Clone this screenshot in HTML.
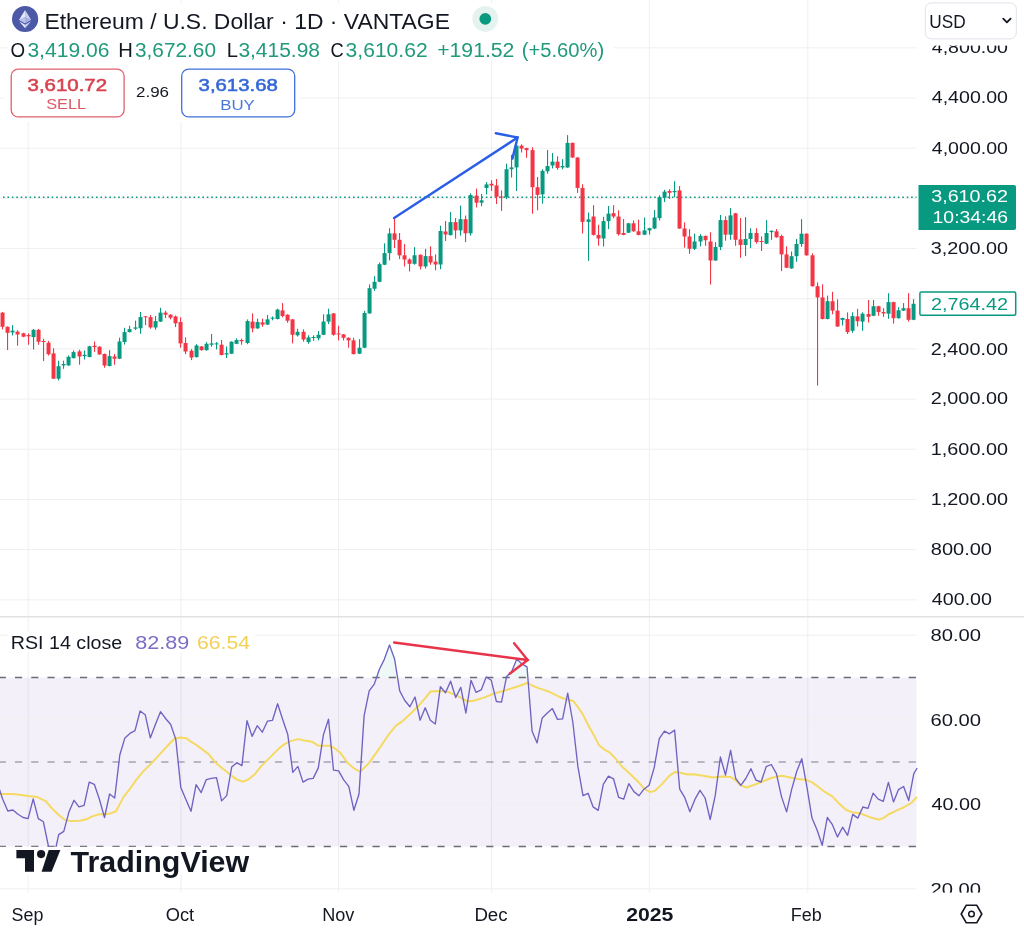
<!DOCTYPE html>
<html><head><meta charset="utf-8"><title>Ethereum / U.S. Dollar chart</title>
<style>
html,body{margin:0;padding:0;background:#fff;}
body{width:1024px;height:934px;overflow:hidden;position:relative;}
svg{position:absolute;left:0;top:0;will-change:transform;}
svg text{font-family:"Liberation Sans", Arial, sans-serif;}
</style></head><body>
<svg width="1024" height="934" viewBox="0 0 1024 934">
<rect width="1024" height="934" fill="#ffffff"/>
<line x1="28.2" y1="0" x2="28.2" y2="892.5" stroke="#efeff1" stroke-width="1"/>
<line x1="181.0" y1="0" x2="181.0" y2="892.5" stroke="#efeff1" stroke-width="1"/>
<line x1="338.6" y1="0" x2="338.6" y2="892.5" stroke="#efeff1" stroke-width="1"/>
<line x1="491.5" y1="0" x2="491.5" y2="892.5" stroke="#efeff1" stroke-width="1"/>
<line x1="649.4" y1="0" x2="649.4" y2="892.5" stroke="#efeff1" stroke-width="1"/>
<line x1="807.8" y1="0" x2="807.8" y2="892.5" stroke="#efeff1" stroke-width="1"/>
<line x1="0" y1="599.8" x2="916.5" y2="599.8" stroke="#efeff1" stroke-width="1"/>
<line x1="0" y1="549.6" x2="916.5" y2="549.6" stroke="#efeff1" stroke-width="1"/>
<line x1="0" y1="499.4" x2="916.5" y2="499.4" stroke="#efeff1" stroke-width="1"/>
<line x1="0" y1="449.2" x2="916.5" y2="449.2" stroke="#efeff1" stroke-width="1"/>
<line x1="0" y1="399.1" x2="916.5" y2="399.1" stroke="#efeff1" stroke-width="1"/>
<line x1="0" y1="348.9" x2="916.5" y2="348.9" stroke="#efeff1" stroke-width="1"/>
<line x1="0" y1="298.7" x2="916.5" y2="298.7" stroke="#efeff1" stroke-width="1"/>
<line x1="0" y1="248.5" x2="916.5" y2="248.5" stroke="#efeff1" stroke-width="1"/>
<line x1="0" y1="198.3" x2="916.5" y2="198.3" stroke="#efeff1" stroke-width="1"/>
<line x1="0" y1="148.2" x2="916.5" y2="148.2" stroke="#efeff1" stroke-width="1"/>
<line x1="0" y1="98.0" x2="916.5" y2="98.0" stroke="#efeff1" stroke-width="1"/>
<line x1="0" y1="47.8" x2="916.5" y2="47.8" stroke="#efeff1" stroke-width="1"/>
<line x1="0" y1="616.8" x2="1024" y2="616.8" stroke="#e2e2e4" stroke-width="1.4"/>
<rect x="0" y="677.5" width="916.5" height="169.0" fill="#7e57c2" fill-opacity="0.09"/>
<line x1="0" y1="635.2" x2="916.5" y2="635.2" stroke="#efeff1" stroke-width="1"/>
<line x1="0" y1="719.8" x2="916.5" y2="719.8" stroke="#efeff1" stroke-width="1"/>
<line x1="0" y1="804.2" x2="916.5" y2="804.2" stroke="#efeff1" stroke-width="1"/>
<line x1="0" y1="888.8" x2="916.5" y2="888.8" stroke="#efeff1" stroke-width="1"/>
<polygon points="376.5,677.5 379.4,669.3 384.4,659.1 389.5,645.0 394.6,659.1 397.6,677.5" fill="#089981" fill-opacity="0.07"/>
<polygon points="486.1,677.5 486.2,677.0 487.0,677.5" fill="#089981" fill-opacity="0.07"/>
<polygon points="506.4,677.5 506.6,676.4 511.7,671.6 516.8,659.0 521.9,663.9 527.0,666.8 527.8,677.5" fill="#089981" fill-opacity="0.07"/>
<polygon points="48.5,846.5 53.6,858.0 56.1,846.5" fill="#f23645" fill-opacity="0.10"/>
<line x1="0" y1="677.5" x2="916.5" y2="677.5" stroke="#6a6d78" stroke-width="1.3" stroke-dasharray="7.2 9.05" stroke-dashoffset="1.3"/>
<line x1="0" y1="762.0" x2="916.5" y2="762.0" stroke="#a3a2b3" stroke-width="1.3" stroke-dasharray="7.2 9.05" stroke-dashoffset="1.3"/>
<line x1="0" y1="846.5" x2="916.5" y2="846.5" stroke="#6a6d78" stroke-width="1.3" stroke-dasharray="7.2 9.05" stroke-dashoffset="1.3"/>
<polyline points="0.0,793.9 12.9,793.9 21.4,795.0 27.9,796.0 37.5,797.1 46.1,801.4 51.4,807.8 57.9,814.3 64.3,819.6 70.7,821.1 79.3,820.7 85.7,819.6 92.1,816.4 99.6,814.3 105.0,814.3 110.0,813.6 116.0,811.3 123.5,797.1 131.0,787.4 136.2,779.9 143.0,771.6 152.0,762.7 161.0,752.9 170.0,743.2 174.4,738.7 180.4,737.6 186.4,738.2 190.9,741.7 196.9,745.4 202.9,749.9 208.9,754.4 214.9,761.9 220.9,767.2 226.0,771.0 231.0,775.4 237.0,779.6 243.0,781.7 249.0,779.1 255.0,773.9 261.0,766.4 267.0,760.4 273.0,754.4 279.0,748.4 284.9,743.9 290.9,740.9 298.4,739.1 304.4,740.6 311.9,741.7 317.9,745.4 323.9,745.7 329.9,745.7 335.9,749.2 341.0,753.6 347.7,763.1 353.5,768.0 360.2,771.8 368.9,763.1 378.5,749.6 388.2,735.2 395.9,725.6 401.7,721.7 411.3,713.0 419.0,705.3 424.8,698.6 430.6,691.5 440.2,690.9 447.9,691.8 455.3,695.0 460.8,697.6 467.5,701.5 474.3,700.5 483.9,697.6 493.5,693.8 503.2,690.9 512.8,688.0 520.5,685.5 527.8,682.8 532.1,685.5 539.8,688.6 549.4,691.8 559.0,696.7 566.8,699.5 573.2,700.9 578.0,707.3 582.9,714.5 587.7,724.2 594.1,735.4 598.9,745.1 603.7,749.1 609.4,752.3 615.0,757.9 623.0,767.6 631.0,774.8 639.1,782.8 644.7,789.2 650.3,792.1 655.1,790.8 661.6,784.4 669.6,775.6 675.2,771.9 682.4,773.2 688.0,774.5 693.4,774.3 703.1,775.7 712.8,777.4 721.2,776.4 731.0,777.1 736.5,781.3 740.7,785.4 746.3,787.5 754.6,784.7 763.0,781.3 769.9,778.5 776.9,776.4 782.5,775.7 788.0,777.1 795.0,778.5 800.3,779.2 807.0,780.1 812.5,782.6 818.1,786.8 824.4,791.7 832.7,796.6 839.0,803.5 845.9,809.8 852.9,812.6 859.9,813.3 865.4,815.4 872.4,818.1 878.7,819.5 883.5,818.1 889.1,814.0 897.5,810.2 904.4,807.0 911.4,802.8 917.0,797.0" fill="none" stroke="#f5da62" stroke-width="2.0" stroke-linejoin="round"/>
<polyline points="-2.4,784.0 2.7,799.3 7.8,811.0 12.9,810.0 18.0,814.3 23.1,817.5 28.1,818.6 33.2,798.9 38.3,818.6 43.4,821.8 48.5,846.5 53.6,858.0 58.7,834.6 63.8,831.4 68.9,812.1 74.0,800.3 79.0,806.8 84.1,805.3 89.2,782.1 94.3,784.3 99.4,799.3 104.5,817.5 109.6,794.0 114.7,798.0 119.8,755.0 124.9,737.9 129.9,733.4 135.0,730.7 140.1,711.0 145.2,714.7 150.3,737.9 155.4,724.5 160.5,711.7 165.6,718.5 170.7,724.5 175.8,739.4 180.8,787.4 185.9,799.4 191.0,811.3 196.1,784.7 201.2,792.6 206.3,779.6 211.4,778.4 216.5,777.6 221.6,800.9 226.7,795.6 231.7,767.0 236.8,762.7 241.9,765.7 247.0,720.7 252.1,736.4 257.2,725.7 262.3,732.2 267.4,721.2 272.5,720.3 277.6,703.8 282.6,719.2 287.7,734.2 292.8,772.4 297.9,766.4 303.0,782.1 308.1,779.1 313.2,778.4 318.3,767.9 323.4,734.9 328.5,719.2 333.5,770.1 338.6,770.9 343.7,779.9 348.8,786.3 353.9,810.3 359.0,794.0 364.1,715.9 369.2,690.9 374.3,684.1 379.4,669.3 384.4,659.1 389.5,645.0 394.6,659.1 399.7,690.9 404.8,700.5 409.9,706.7 415.0,697.0 420.1,720.2 425.2,707.8 430.3,720.2 435.3,724.0 440.4,686.6 445.5,692.8 450.6,681.2 455.7,697.5 460.8,687.4 465.9,713.0 471.0,680.3 476.1,692.4 481.2,689.9 486.2,677.0 491.3,680.3 496.4,701.5 501.5,702.1 506.6,676.4 511.7,671.6 516.8,659.0 521.9,663.9 527.0,666.8 532.1,731.3 537.1,742.9 542.2,717.9 547.3,713.0 552.4,708.6 557.5,719.4 562.6,718.8 567.7,693.2 572.8,722.0 577.9,766.7 583.0,795.7 588.1,793.3 593.1,806.9 598.2,810.4 603.3,784.4 608.4,776.1 613.5,778.8 618.6,797.3 623.7,799.2 628.8,783.6 633.9,791.6 639.0,795.7 644.0,789.2 649.1,785.2 654.2,767.6 659.3,738.6 664.4,731.1 669.5,733.8 674.6,730.1 679.7,789.2 684.8,797.7 689.9,811.8 694.9,799.4 700.0,790.3 705.1,798.0 710.2,819.5 715.3,795.2 720.4,756.9 725.5,775.0 730.6,750.3 735.7,778.5 740.8,785.4 745.8,778.5 750.9,768.7 756.0,780.1 761.1,782.0 766.2,766.6 771.3,764.5 776.4,773.6 781.5,796.6 786.6,811.9 791.6,789.6 796.7,771.5 801.8,758.7 806.9,786.8 812.0,818.1 817.1,830.0 822.2,845.3 827.3,817.5 832.4,824.7 837.5,836.9 842.6,827.2 847.6,835.3 852.7,814.4 857.8,818.1 862.9,807.0 868.0,808.4 873.1,793.1 878.2,799.1 883.3,801.4 888.4,782.4 893.5,801.9 898.5,789.6 903.6,786.5 908.7,800.5 913.8,773.6 917.2,768.0" fill="none" stroke="#6f63c2" stroke-width="1.35" stroke-linejoin="round"/>
<line x1="3" y1="197.2" x2="916.5" y2="197.2" stroke="#089981" stroke-width="1.6" stroke-dasharray="1.6 2.83"/>
<rect x="2" y="311.9" width="1.1" height="17.5" fill="#f23645"/>
<rect x="0.55" y="312.7" width="4" height="14.1" fill="#f23645"/>
<rect x="7" y="326.4" width="1.1" height="23.6" fill="#f23645"/>
<rect x="5.55" y="326.8" width="4" height="6.0" fill="#f23645"/>
<rect x="12" y="325.1" width="1.1" height="10.3" fill="#089981"/>
<rect x="10.55" y="330.7" width="4" height="1.7" fill="#089981"/>
<rect x="17" y="330.3" width="1.1" height="15.4" fill="#f23645"/>
<rect x="15.55" y="331.6" width="4" height="2.9" fill="#f23645"/>
<rect x="23" y="332.8" width="1.1" height="4.4" fill="#f23645"/>
<rect x="21.55" y="333.3" width="4" height="3.4" fill="#f23645"/>
<rect x="28" y="333.3" width="1.1" height="11.5" fill="#f23645"/>
<rect x="26.55" y="335.0" width="4" height="1.3" fill="#f23645"/>
<rect x="33" y="329.0" width="1.1" height="20.5" fill="#089981"/>
<rect x="31.55" y="329.8" width="4" height="7.3" fill="#089981"/>
<rect x="38" y="329.0" width="1.1" height="15.8" fill="#f23645"/>
<rect x="36.55" y="329.8" width="4" height="12.0" fill="#f23645"/>
<rect x="43" y="338.8" width="1.1" height="22.3" fill="#f23645"/>
<rect x="41.55" y="341.0" width="4" height="1.0" fill="#f23645"/>
<rect x="48" y="341.0" width="1.1" height="14.5" fill="#f23645"/>
<rect x="46.55" y="342.7" width="4" height="11.5" fill="#f23645"/>
<rect x="53" y="348.3" width="1.1" height="30.4" fill="#f23645"/>
<rect x="51.55" y="353.4" width="4" height="25.3" fill="#f23645"/>
<rect x="58" y="360.7" width="1.1" height="19.7" fill="#089981"/>
<rect x="56.55" y="366.2" width="4" height="12.5" fill="#089981"/>
<rect x="63" y="360.7" width="1.1" height="8.1" fill="#089981"/>
<rect x="61.55" y="364.0" width="4" height="1.4" fill="#089981"/>
<rect x="68" y="355.5" width="1.1" height="10.3" fill="#089981"/>
<rect x="66.55" y="356.8" width="4" height="8.6" fill="#089981"/>
<rect x="73" y="350.4" width="1.1" height="8.1" fill="#089981"/>
<rect x="71.55" y="352.1" width="4" height="6.0" fill="#089981"/>
<rect x="79" y="349.7" width="1.1" height="15.0" fill="#f23645"/>
<rect x="77.55" y="351.4" width="4" height="5.1" fill="#f23645"/>
<rect x="84" y="350.5" width="1.1" height="9.0" fill="#089981"/>
<rect x="82.55" y="354.8" width="4" height="1.3" fill="#089981"/>
<rect x="89" y="345.8" width="1.1" height="11.6" fill="#089981"/>
<rect x="87.55" y="346.3" width="4" height="10.7" fill="#089981"/>
<rect x="94" y="341.5" width="1.1" height="10.3" fill="#f23645"/>
<rect x="92.55" y="345.8" width="4" height="1.3" fill="#f23645"/>
<rect x="99" y="346.3" width="1.1" height="8.5" fill="#f23645"/>
<rect x="97.55" y="346.7" width="4" height="7.7" fill="#f23645"/>
<rect x="104" y="353.5" width="1.1" height="14.2" fill="#f23645"/>
<rect x="102.55" y="354.0" width="4" height="11.5" fill="#f23645"/>
<rect x="109" y="350.1" width="1.1" height="16.3" fill="#089981"/>
<rect x="107.55" y="356.1" width="4" height="9.9" fill="#089981"/>
<rect x="114" y="354.0" width="1.1" height="10.7" fill="#f23645"/>
<rect x="112.55" y="356.5" width="4" height="2.2" fill="#f23645"/>
<rect x="119" y="337.7" width="1.1" height="21.4" fill="#089981"/>
<rect x="117.55" y="341.5" width="4" height="17.2" fill="#089981"/>
<rect x="124" y="327.8" width="1.1" height="16.7" fill="#089981"/>
<rect x="122.55" y="332.1" width="4" height="9.9" fill="#089981"/>
<rect x="129" y="325.7" width="1.1" height="6.8" fill="#089981"/>
<rect x="127.55" y="329.1" width="4" height="3.0" fill="#089981"/>
<rect x="135" y="320.6" width="1.1" height="9.4" fill="#089981"/>
<rect x="133.55" y="327.4" width="4" height="1.3" fill="#089981"/>
<rect x="140" y="312.0" width="1.1" height="21.8" fill="#089981"/>
<rect x="138.55" y="317.1" width="4" height="11.2" fill="#089981"/>
<rect x="145" y="316.0" width="1.1" height="9.3" fill="#f23645"/>
<rect x="143.55" y="316.3" width="4" height="1.0" fill="#f23645"/>
<rect x="150" y="315.0" width="1.1" height="13.7" fill="#f23645"/>
<rect x="148.55" y="317.1" width="4" height="10.3" fill="#f23645"/>
<rect x="155" y="316.0" width="1.1" height="13.7" fill="#089981"/>
<rect x="153.55" y="321.1" width="4" height="6.4" fill="#089981"/>
<rect x="160" y="307.8" width="1.1" height="14.2" fill="#089981"/>
<rect x="158.55" y="312.6" width="4" height="9.0" fill="#089981"/>
<rect x="165" y="310.8" width="1.1" height="7.3" fill="#f23645"/>
<rect x="163.55" y="312.6" width="4" height="2.1" fill="#f23645"/>
<rect x="170" y="314.2" width="1.1" height="5.2" fill="#f23645"/>
<rect x="168.55" y="314.7" width="4" height="3.0" fill="#f23645"/>
<rect x="175" y="315.5" width="1.1" height="11.6" fill="#f23645"/>
<rect x="173.55" y="316.4" width="4" height="6.9" fill="#f23645"/>
<rect x="180" y="317.3" width="1.1" height="30.4" fill="#f23645"/>
<rect x="178.55" y="322.0" width="4" height="21.4" fill="#f23645"/>
<rect x="185" y="337.4" width="1.1" height="16.7" fill="#f23645"/>
<rect x="183.55" y="343.0" width="4" height="8.5" fill="#f23645"/>
<rect x="191" y="349.0" width="1.1" height="11.1" fill="#f23645"/>
<rect x="189.55" y="350.7" width="4" height="6.8" fill="#f23645"/>
<rect x="196" y="344.2" width="1.1" height="13.3" fill="#089981"/>
<rect x="194.55" y="345.5" width="4" height="11.6" fill="#089981"/>
<rect x="201" y="346.0" width="1.1" height="4.6" fill="#f23645"/>
<rect x="199.55" y="346.4" width="4" height="3.8" fill="#f23645"/>
<rect x="206" y="342.1" width="1.1" height="8.5" fill="#089981"/>
<rect x="204.55" y="343.8" width="4" height="6.4" fill="#089981"/>
<rect x="211" y="334.0" width="1.1" height="12.8" fill="#089981"/>
<rect x="209.55" y="343.4" width="4" height="1.3" fill="#089981"/>
<rect x="216" y="342.1" width="1.1" height="7.3" fill="#089981"/>
<rect x="214.55" y="343.4" width="4" height="1.0" fill="#089981"/>
<rect x="221" y="340.0" width="1.1" height="15.4" fill="#f23645"/>
<rect x="219.55" y="344.7" width="4" height="10.3" fill="#f23645"/>
<rect x="226" y="346.4" width="1.1" height="11.6" fill="#089981"/>
<rect x="224.55" y="353.2" width="4" height="1.3" fill="#089981"/>
<rect x="231" y="341.3" width="1.1" height="12.8" fill="#089981"/>
<rect x="229.55" y="341.7" width="4" height="12.0" fill="#089981"/>
<rect x="236" y="338.3" width="1.1" height="5.9" fill="#089981"/>
<rect x="234.55" y="340.0" width="4" height="3.8" fill="#089981"/>
<rect x="241" y="338.6" width="1.1" height="6.1" fill="#f23645"/>
<rect x="239.55" y="340.0" width="4" height="1.3" fill="#f23645"/>
<rect x="247" y="319.4" width="1.1" height="24.8" fill="#089981"/>
<rect x="245.55" y="321.1" width="4" height="21.9" fill="#089981"/>
<rect x="252" y="313.4" width="1.1" height="18.9" fill="#f23645"/>
<rect x="250.55" y="321.6" width="4" height="6.8" fill="#f23645"/>
<rect x="257" y="318.6" width="1.1" height="10.2" fill="#089981"/>
<rect x="255.55" y="322.0" width="4" height="6.4" fill="#089981"/>
<rect x="262" y="318.6" width="1.1" height="8.1" fill="#f23645"/>
<rect x="260.55" y="322.4" width="4" height="2.2" fill="#f23645"/>
<rect x="267" y="315.1" width="1.1" height="9.9" fill="#089981"/>
<rect x="265.55" y="319.4" width="4" height="5.2" fill="#089981"/>
<rect x="272" y="316.4" width="1.1" height="3.9" fill="#089981"/>
<rect x="270.55" y="317.7" width="4" height="1.0" fill="#089981"/>
<rect x="277" y="308.7" width="1.1" height="10.7" fill="#089981"/>
<rect x="275.55" y="309.6" width="4" height="9.4" fill="#089981"/>
<rect x="282" y="303.1" width="1.1" height="14.2" fill="#f23645"/>
<rect x="280.55" y="310.4" width="4" height="5.6" fill="#f23645"/>
<rect x="287" y="314.3" width="1.1" height="8.5" fill="#f23645"/>
<rect x="285.55" y="314.7" width="4" height="6.0" fill="#f23645"/>
<rect x="292" y="319.0" width="1.1" height="24.4" fill="#f23645"/>
<rect x="290.55" y="319.4" width="4" height="15.4" fill="#f23645"/>
<rect x="297" y="328.8" width="1.1" height="7.7" fill="#089981"/>
<rect x="295.55" y="331.8" width="4" height="3.5" fill="#089981"/>
<rect x="303" y="329.3" width="1.1" height="12.4" fill="#f23645"/>
<rect x="301.55" y="331.8" width="4" height="7.7" fill="#f23645"/>
<rect x="308" y="335.3" width="1.1" height="8.5" fill="#089981"/>
<rect x="306.55" y="337.4" width="4" height="4.7" fill="#089981"/>
<rect x="313" y="335.3" width="1.1" height="5.5" fill="#089981"/>
<rect x="311.55" y="337.0" width="4" height="1.0" fill="#089981"/>
<rect x="318" y="331.0" width="1.1" height="9.4" fill="#089981"/>
<rect x="316.55" y="334.8" width="4" height="3.5" fill="#089981"/>
<rect x="323" y="314.3" width="1.1" height="20.9" fill="#089981"/>
<rect x="321.55" y="321.6" width="4" height="13.2" fill="#089981"/>
<rect x="328" y="308.7" width="1.1" height="15.4" fill="#089981"/>
<rect x="326.55" y="314.3" width="4" height="7.3" fill="#089981"/>
<rect x="333" y="313.0" width="1.1" height="22.7" fill="#f23645"/>
<rect x="331.55" y="313.4" width="4" height="21.4" fill="#f23645"/>
<rect x="338" y="325.8" width="1.1" height="14.6" fill="#f23645"/>
<rect x="336.55" y="333.5" width="4" height="1.0" fill="#f23645"/>
<rect x="343" y="334.0" width="1.1" height="6.4" fill="#f23645"/>
<rect x="341.55" y="334.4" width="4" height="3.4" fill="#f23645"/>
<rect x="348" y="337.4" width="1.1" height="10.3" fill="#f23645"/>
<rect x="346.55" y="337.8" width="4" height="2.6" fill="#f23645"/>
<rect x="353" y="337.8" width="1.1" height="16.7" fill="#f23645"/>
<rect x="351.55" y="340.4" width="4" height="13.7" fill="#f23645"/>
<rect x="359" y="339.1" width="1.1" height="15.0" fill="#089981"/>
<rect x="357.55" y="347.7" width="4" height="6.0" fill="#089981"/>
<rect x="364" y="310.8" width="1.1" height="37.3" fill="#089981"/>
<rect x="362.55" y="313.0" width="4" height="34.7" fill="#089981"/>
<rect x="369" y="284.4" width="1.1" height="29.4" fill="#089981"/>
<rect x="367.55" y="288.2" width="4" height="25.2" fill="#089981"/>
<rect x="374" y="276.2" width="1.1" height="14.6" fill="#089981"/>
<rect x="372.55" y="281.8" width="4" height="6.9" fill="#089981"/>
<rect x="379" y="262.5" width="1.1" height="19.7" fill="#089981"/>
<rect x="377.55" y="264.2" width="4" height="17.6" fill="#089981"/>
<rect x="384" y="243.3" width="1.1" height="21.8" fill="#089981"/>
<rect x="382.55" y="253.1" width="4" height="11.6" fill="#089981"/>
<rect x="389" y="228.3" width="1.1" height="32.1" fill="#089981"/>
<rect x="387.55" y="233.4" width="4" height="19.7" fill="#089981"/>
<rect x="394" y="218.4" width="1.1" height="29.6" fill="#f23645"/>
<rect x="392.55" y="233.4" width="4" height="6.4" fill="#f23645"/>
<rect x="399" y="233.0" width="1.1" height="26.1" fill="#f23645"/>
<rect x="397.55" y="239.8" width="4" height="15.5" fill="#f23645"/>
<rect x="404" y="244.1" width="1.1" height="22.3" fill="#f23645"/>
<rect x="402.55" y="255.3" width="4" height="4.2" fill="#f23645"/>
<rect x="409" y="258.3" width="1.1" height="13.2" fill="#f23645"/>
<rect x="407.55" y="259.5" width="4" height="4.3" fill="#f23645"/>
<rect x="414" y="247.1" width="1.1" height="17.6" fill="#089981"/>
<rect x="412.55" y="255.3" width="4" height="8.5" fill="#089981"/>
<rect x="420" y="254.4" width="1.1" height="15.0" fill="#f23645"/>
<rect x="418.55" y="254.8" width="4" height="11.6" fill="#f23645"/>
<rect x="425" y="248.8" width="1.1" height="19.7" fill="#089981"/>
<rect x="423.55" y="256.1" width="4" height="10.3" fill="#089981"/>
<rect x="430" y="246.3" width="1.1" height="18.4" fill="#f23645"/>
<rect x="428.55" y="256.1" width="4" height="6.4" fill="#f23645"/>
<rect x="435" y="254.4" width="1.1" height="15.8" fill="#f23645"/>
<rect x="433.55" y="261.6" width="4" height="2.9" fill="#f23645"/>
<rect x="440" y="225.7" width="1.1" height="43.5" fill="#089981"/>
<rect x="438.55" y="231.0" width="4" height="33.5" fill="#089981"/>
<rect x="445" y="221.0" width="1.1" height="20.0" fill="#f23645"/>
<rect x="443.55" y="231.5" width="4" height="3.0" fill="#f23645"/>
<rect x="450" y="212.1" width="1.1" height="23.4" fill="#089981"/>
<rect x="448.55" y="222.1" width="4" height="13.0" fill="#089981"/>
<rect x="455" y="218.0" width="1.1" height="20.6" fill="#f23645"/>
<rect x="453.55" y="222.1" width="4" height="8.3" fill="#f23645"/>
<rect x="460" y="205.6" width="1.1" height="30.1" fill="#089981"/>
<rect x="458.55" y="219.2" width="4" height="11.2" fill="#089981"/>
<rect x="465" y="215.6" width="1.1" height="26.5" fill="#f23645"/>
<rect x="463.55" y="219.2" width="4" height="14.1" fill="#f23645"/>
<rect x="470" y="193.3" width="1.1" height="42.4" fill="#089981"/>
<rect x="468.55" y="195.0" width="4" height="38.3" fill="#089981"/>
<rect x="476" y="188.6" width="1.1" height="18.8" fill="#f23645"/>
<rect x="474.55" y="195.6" width="4" height="7.1" fill="#f23645"/>
<rect x="481" y="193.9" width="1.1" height="12.3" fill="#089981"/>
<rect x="479.55" y="200.3" width="4" height="2.4" fill="#089981"/>
<rect x="486" y="182.1" width="1.1" height="12.3" fill="#089981"/>
<rect x="484.55" y="184.4" width="4" height="3.6" fill="#089981"/>
<rect x="491" y="180.3" width="1.1" height="10.6" fill="#f23645"/>
<rect x="489.55" y="183.8" width="4" height="1.8" fill="#f23645"/>
<rect x="496" y="179.0" width="1.1" height="25.0" fill="#f23645"/>
<rect x="494.55" y="185.4" width="4" height="11.4" fill="#f23645"/>
<rect x="501" y="190.4" width="1.1" height="20.5" fill="#f23645"/>
<rect x="499.55" y="196.6" width="4" height="1.0" fill="#f23645"/>
<rect x="506" y="163.6" width="1.1" height="35.6" fill="#089981"/>
<rect x="504.55" y="169.2" width="4" height="28.2" fill="#089981"/>
<rect x="511" y="154.9" width="1.1" height="22.6" fill="#089981"/>
<rect x="509.55" y="167.4" width="4" height="1.8" fill="#089981"/>
<rect x="516" y="137.5" width="1.1" height="53.5" fill="#089981"/>
<rect x="514.55" y="145.7" width="4" height="21.7" fill="#089981"/>
<rect x="521" y="144.3" width="1.1" height="8.2" fill="#f23645"/>
<rect x="519.55" y="145.7" width="4" height="2.9" fill="#f23645"/>
<rect x="526" y="147.7" width="1.1" height="10.1" fill="#f23645"/>
<rect x="524.55" y="148.1" width="4" height="2.0" fill="#f23645"/>
<rect x="532" y="147.2" width="1.1" height="66.5" fill="#f23645"/>
<rect x="530.55" y="150.1" width="4" height="37.1" fill="#f23645"/>
<rect x="537" y="177.0" width="1.1" height="33.3" fill="#f23645"/>
<rect x="535.55" y="187.2" width="4" height="7.7" fill="#f23645"/>
<rect x="542" y="169.3" width="1.1" height="34.3" fill="#089981"/>
<rect x="540.55" y="170.8" width="4" height="23.6" fill="#089981"/>
<rect x="547" y="150.1" width="1.1" height="23.6" fill="#089981"/>
<rect x="545.55" y="166.0" width="4" height="5.3" fill="#089981"/>
<rect x="552" y="153.0" width="1.1" height="15.4" fill="#089981"/>
<rect x="550.55" y="161.6" width="4" height="3.9" fill="#089981"/>
<rect x="557" y="156.3" width="1.1" height="13.5" fill="#f23645"/>
<rect x="555.55" y="161.6" width="4" height="6.3" fill="#f23645"/>
<rect x="562" y="159.2" width="1.1" height="10.1" fill="#089981"/>
<rect x="560.55" y="166.0" width="4" height="1.4" fill="#089981"/>
<rect x="567" y="135.1" width="1.1" height="32.8" fill="#089981"/>
<rect x="565.55" y="142.9" width="4" height="24.6" fill="#089981"/>
<rect x="572" y="142.5" width="1.1" height="15.4" fill="#f23645"/>
<rect x="570.55" y="142.9" width="4" height="14.6" fill="#f23645"/>
<rect x="577" y="157.1" width="1.1" height="35.8" fill="#f23645"/>
<rect x="575.55" y="157.5" width="4" height="30.4" fill="#f23645"/>
<rect x="582" y="184.3" width="1.1" height="49.1" fill="#f23645"/>
<rect x="580.55" y="187.9" width="4" height="34.0" fill="#f23645"/>
<rect x="588" y="212.5" width="1.1" height="48.4" fill="#089981"/>
<rect x="586.55" y="219.4" width="4" height="2.5" fill="#089981"/>
<rect x="593" y="205.2" width="1.1" height="30.4" fill="#f23645"/>
<rect x="591.55" y="216.5" width="4" height="18.4" fill="#f23645"/>
<rect x="598" y="224.8" width="1.1" height="20.9" fill="#f23645"/>
<rect x="596.55" y="234.9" width="4" height="3.6" fill="#f23645"/>
<rect x="603" y="216.8" width="1.1" height="29.7" fill="#089981"/>
<rect x="601.55" y="221.1" width="4" height="17.4" fill="#089981"/>
<rect x="608" y="206.0" width="1.1" height="23.1" fill="#089981"/>
<rect x="606.55" y="213.6" width="4" height="7.5" fill="#089981"/>
<rect x="613" y="205.2" width="1.1" height="13.0" fill="#f23645"/>
<rect x="611.55" y="213.2" width="4" height="3.3" fill="#f23645"/>
<rect x="618" y="210.3" width="1.1" height="25.3" fill="#f23645"/>
<rect x="616.55" y="216.5" width="4" height="17.7" fill="#f23645"/>
<rect x="623" y="219.0" width="1.1" height="16.3" fill="#f23645"/>
<rect x="621.55" y="233.0" width="4" height="1.9" fill="#f23645"/>
<rect x="628" y="222.9" width="1.1" height="10.2" fill="#089981"/>
<rect x="626.55" y="223.3" width="4" height="9.4" fill="#089981"/>
<rect x="633" y="220.4" width="1.1" height="11.3" fill="#f23645"/>
<rect x="631.55" y="223.3" width="4" height="8.0" fill="#f23645"/>
<rect x="638" y="219.7" width="1.1" height="15.6" fill="#f23645"/>
<rect x="636.55" y="231.3" width="4" height="3.6" fill="#f23645"/>
<rect x="644" y="217.5" width="1.1" height="17.6" fill="#089981"/>
<rect x="642.55" y="230.4" width="4" height="4.3" fill="#089981"/>
<rect x="649" y="227.8" width="1.1" height="6.9" fill="#089981"/>
<rect x="647.55" y="228.2" width="4" height="2.2" fill="#089981"/>
<rect x="654" y="210.1" width="1.1" height="19.1" fill="#089981"/>
<rect x="652.55" y="217.5" width="4" height="11.0" fill="#089981"/>
<rect x="659" y="195.3" width="1.1" height="25.2" fill="#089981"/>
<rect x="657.55" y="197.2" width="4" height="20.9" fill="#089981"/>
<rect x="664" y="189.8" width="1.1" height="12.3" fill="#089981"/>
<rect x="662.55" y="191.6" width="4" height="6.2" fill="#089981"/>
<rect x="669" y="189.2" width="1.1" height="9.8" fill="#f23645"/>
<rect x="667.55" y="191.0" width="4" height="1.8" fill="#f23645"/>
<rect x="674" y="181.2" width="1.1" height="16.0" fill="#089981"/>
<rect x="672.55" y="191.0" width="4" height="1.2" fill="#089981"/>
<rect x="679" y="186.1" width="1.1" height="42.8" fill="#f23645"/>
<rect x="677.55" y="190.4" width="4" height="38.1" fill="#f23645"/>
<rect x="684" y="222.4" width="1.1" height="25.2" fill="#f23645"/>
<rect x="682.55" y="228.5" width="4" height="8.0" fill="#f23645"/>
<rect x="689" y="229.2" width="1.1" height="24.6" fill="#f23645"/>
<rect x="687.55" y="236.5" width="4" height="12.3" fill="#f23645"/>
<rect x="694" y="233.5" width="1.1" height="16.5" fill="#089981"/>
<rect x="692.55" y="241.5" width="4" height="7.3" fill="#089981"/>
<rect x="700" y="234.1" width="1.1" height="12.3" fill="#089981"/>
<rect x="698.55" y="235.9" width="4" height="5.6" fill="#089981"/>
<rect x="705" y="235.5" width="1.1" height="10.3" fill="#f23645"/>
<rect x="703.55" y="235.9" width="4" height="4.3" fill="#f23645"/>
<rect x="710" y="232.2" width="1.1" height="52.3" fill="#f23645"/>
<rect x="708.55" y="241.5" width="4" height="19.0" fill="#f23645"/>
<rect x="715" y="242.1" width="1.1" height="18.8" fill="#089981"/>
<rect x="713.55" y="247.0" width="4" height="13.5" fill="#089981"/>
<rect x="720" y="215.0" width="1.1" height="35.1" fill="#089981"/>
<rect x="718.55" y="220.1" width="4" height="27.0" fill="#089981"/>
<rect x="725" y="216.3" width="1.1" height="24.4" fill="#f23645"/>
<rect x="723.55" y="220.1" width="4" height="14.6" fill="#f23645"/>
<rect x="730" y="208.1" width="1.1" height="31.7" fill="#089981"/>
<rect x="728.55" y="215.4" width="4" height="19.3" fill="#089981"/>
<rect x="735" y="212.9" width="1.1" height="32.9" fill="#f23645"/>
<rect x="733.55" y="213.3" width="4" height="26.5" fill="#f23645"/>
<rect x="740" y="218.0" width="1.1" height="39.8" fill="#f23645"/>
<rect x="738.55" y="239.4" width="4" height="5.6" fill="#f23645"/>
<rect x="745" y="217.1" width="1.1" height="39.0" fill="#089981"/>
<rect x="743.55" y="239.0" width="4" height="6.0" fill="#089981"/>
<rect x="750" y="228.3" width="1.1" height="19.7" fill="#089981"/>
<rect x="748.55" y="233.0" width="4" height="6.0" fill="#089981"/>
<rect x="756" y="228.3" width="1.1" height="15.4" fill="#f23645"/>
<rect x="754.55" y="233.0" width="4" height="9.0" fill="#f23645"/>
<rect x="761" y="236.4" width="1.1" height="14.6" fill="#f23645"/>
<rect x="759.55" y="241.1" width="4" height="1.0" fill="#f23645"/>
<rect x="766" y="220.1" width="1.1" height="24.0" fill="#089981"/>
<rect x="764.55" y="233.0" width="4" height="10.7" fill="#089981"/>
<rect x="771" y="230.4" width="1.1" height="9.4" fill="#089981"/>
<rect x="769.55" y="230.8" width="4" height="1.3" fill="#089981"/>
<rect x="776" y="229.1" width="1.1" height="8.6" fill="#f23645"/>
<rect x="774.55" y="231.3" width="4" height="6.0" fill="#f23645"/>
<rect x="781" y="234.7" width="1.1" height="36.4" fill="#f23645"/>
<rect x="779.55" y="236.0" width="4" height="18.4" fill="#f23645"/>
<rect x="786" y="246.3" width="1.1" height="21.8" fill="#f23645"/>
<rect x="784.55" y="254.4" width="4" height="13.3" fill="#f23645"/>
<rect x="791" y="251.5" width="1.1" height="17.3" fill="#089981"/>
<rect x="789.55" y="256.2" width="4" height="12.2" fill="#089981"/>
<rect x="796" y="239.0" width="1.1" height="22.8" fill="#089981"/>
<rect x="794.55" y="244.0" width="4" height="12.2" fill="#089981"/>
<rect x="801" y="219.1" width="1.1" height="27.8" fill="#089981"/>
<rect x="799.55" y="233.7" width="4" height="10.3" fill="#089981"/>
<rect x="806" y="233.3" width="1.1" height="22.4" fill="#f23645"/>
<rect x="804.55" y="233.7" width="4" height="21.6" fill="#f23645"/>
<rect x="812" y="253.4" width="1.1" height="33.2" fill="#f23645"/>
<rect x="810.55" y="255.3" width="4" height="30.9" fill="#f23645"/>
<rect x="817" y="282.4" width="1.1" height="103.1" fill="#f23645"/>
<rect x="815.55" y="286.2" width="4" height="11.2" fill="#f23645"/>
<rect x="822" y="284.3" width="1.1" height="35.1" fill="#f23645"/>
<rect x="820.55" y="297.4" width="4" height="21.6" fill="#f23645"/>
<rect x="827" y="295.6" width="1.1" height="23.8" fill="#089981"/>
<rect x="825.55" y="301.2" width="4" height="17.8" fill="#089981"/>
<rect x="832" y="291.8" width="1.1" height="22.5" fill="#f23645"/>
<rect x="830.55" y="301.2" width="4" height="9.4" fill="#f23645"/>
<rect x="837" y="299.3" width="1.1" height="27.6" fill="#f23645"/>
<rect x="835.55" y="310.6" width="4" height="15.9" fill="#f23645"/>
<rect x="842" y="317.6" width="1.1" height="7.9" fill="#089981"/>
<rect x="840.55" y="318.0" width="4" height="1.9" fill="#089981"/>
<rect x="847" y="312.4" width="1.1" height="21.6" fill="#f23645"/>
<rect x="845.55" y="319.0" width="4" height="13.1" fill="#f23645"/>
<rect x="852" y="312.3" width="1.1" height="20.5" fill="#089981"/>
<rect x="850.55" y="316.1" width="4" height="14.7" fill="#089981"/>
<rect x="857" y="308.9" width="1.1" height="17.5" fill="#f23645"/>
<rect x="855.55" y="316.4" width="4" height="4.8" fill="#f23645"/>
<rect x="862" y="312.3" width="1.1" height="18.5" fill="#089981"/>
<rect x="860.55" y="313.7" width="4" height="7.9" fill="#089981"/>
<rect x="868" y="300.0" width="1.1" height="22.6" fill="#f23645"/>
<rect x="866.55" y="314.0" width="4" height="2.8" fill="#f23645"/>
<rect x="873" y="300.0" width="1.1" height="16.2" fill="#089981"/>
<rect x="871.55" y="306.2" width="4" height="9.6" fill="#089981"/>
<rect x="878" y="305.8" width="1.1" height="10.0" fill="#f23645"/>
<rect x="876.55" y="306.2" width="4" height="5.8" fill="#f23645"/>
<rect x="883" y="308.2" width="1.1" height="8.6" fill="#f23645"/>
<rect x="881.55" y="312.0" width="4" height="1.4" fill="#f23645"/>
<rect x="888" y="293.2" width="1.1" height="25.6" fill="#089981"/>
<rect x="886.55" y="302.1" width="4" height="11.6" fill="#089981"/>
<rect x="893" y="301.7" width="1.1" height="21.9" fill="#f23645"/>
<rect x="891.55" y="302.1" width="4" height="16.1" fill="#f23645"/>
<rect x="898" y="307.2" width="1.1" height="11.4" fill="#089981"/>
<rect x="896.55" y="310.3" width="4" height="7.9" fill="#089981"/>
<rect x="903" y="303.1" width="1.1" height="7.9" fill="#089981"/>
<rect x="901.55" y="308.2" width="4" height="2.4" fill="#089981"/>
<rect x="908" y="293.2" width="1.1" height="28.4" fill="#f23645"/>
<rect x="906.55" y="308.2" width="4" height="11.6" fill="#f23645"/>
<rect x="913" y="299.1" width="1.1" height="21.1" fill="#089981"/>
<rect x="911.55" y="303.8" width="4" height="16.0" fill="#089981"/>
<g stroke="#2a5ee8" stroke-width="2.4" stroke-linecap="round" fill="none"><line x1="394.1" y1="218" x2="517.6" y2="137.5"/><polyline points="495.8,133.2 517.6,137.5 512.4,158.6"/></g>
<g stroke="#e8334a" stroke-width="2.4" stroke-linecap="round" fill="none"><line x1="394.1" y1="642.5" x2="527.7" y2="660"/><polyline points="514.1,643.3 527.7,660 509.7,673.7"/></g>
<rect x="8" y="3" width="492" height="33.5" fill="#fff"/>
<rect x="8" y="36.5" width="606" height="24.5" fill="#fff"/>
<rect x="4.2" y="61" width="296" height="61" fill="#fff"/>
<rect x="8" y="631.5" width="247" height="20.5" fill="#fff"/>
<rect x="0" y="846.9" width="255" height="28" fill="#fff"/>
<text x="931.8" y="53.44" font-size="17" fill="#131722" textLength="76.2" lengthAdjust="spacingAndGlyphs">4,800.00</text>
<text x="931.8" y="103.16" font-size="17" fill="#131722" textLength="76.2" lengthAdjust="spacingAndGlyphs">4,400.00</text>
<text x="931.8" y="153.88" font-size="17" fill="#131722" textLength="76.2" lengthAdjust="spacingAndGlyphs">4,000.00</text>
<text x="930.8" y="254.32" font-size="17" fill="#131722" textLength="77.2" lengthAdjust="spacingAndGlyphs">3,200.00</text>
<text x="930.8" y="354.76" font-size="17" fill="#131722" textLength="77.2" lengthAdjust="spacingAndGlyphs">2,400.00</text>
<text x="930.8" y="404.48" font-size="17" fill="#131722" textLength="77.2" lengthAdjust="spacingAndGlyphs">2,000.00</text>
<text x="930.8" y="455.2" font-size="17" fill="#131722" textLength="77.2" lengthAdjust="spacingAndGlyphs">1,600.00</text>
<text x="930.8" y="504.92" font-size="17" fill="#131722" textLength="77.2" lengthAdjust="spacingAndGlyphs">1,200.00</text>
<text x="930.8" y="554.64" font-size="17" fill="#131722" textLength="61.2" lengthAdjust="spacingAndGlyphs">800.00</text>
<text x="931.8" y="605.36" font-size="17" fill="#131722" textLength="60.2" lengthAdjust="spacingAndGlyphs">400.00</text>
<text x="930.4" y="641.04" font-size="17" fill="#131722" textLength="50.6" lengthAdjust="spacingAndGlyphs">80.00</text>
<text x="930.4" y="726.04" font-size="17" fill="#131722" textLength="50.6" lengthAdjust="spacingAndGlyphs">60.00</text>
<text x="931.4" y="810.04" font-size="17" fill="#131722" textLength="49.6" lengthAdjust="spacingAndGlyphs">40.00</text>
<text x="930.4" y="895.04" font-size="17" fill="#131722" textLength="50.6" lengthAdjust="spacingAndGlyphs">20.00</text>
<rect x="918" y="0" width="106" height="45.6" fill="#fff"/>
<rect x="918" y="892.6" width="106" height="42" fill="#fff"/>
<rect x="925.3" y="2.9" width="91" height="36" rx="6" fill="#fff" stroke="#e0e3eb" stroke-width="1"/>
<text x="929.2" y="27.67" font-size="17.6" fill="#131722" textLength="36.4" lengthAdjust="spacingAndGlyphs">USD</text>
<polyline points="1003.2,18.6 1006.9,22.4 1010.6,18.6" fill="none" stroke="#131722" stroke-width="1.8" stroke-linecap="round" stroke-linejoin="round"/>
<path d="M918.5,185 H1014 a2,2 0 0 1 2,2 V228 a2,2 0 0 1 -2,2 H918.5 Z" fill="#089981"/>
<text x="931.2" y="201.84" font-size="17" fill="#ffffff" textLength="76.8" lengthAdjust="spacingAndGlyphs">3,610.62</text>
<text x="932.6" y="223.24" font-size="17" fill="#ffffff" textLength="75.4" lengthAdjust="spacingAndGlyphs">10:34:46</text>
<rect x="919.9" y="291.9" width="95.8" height="23.4" rx="1.5" fill="#fff" stroke="#089981" stroke-width="1.5"/>
<text x="931.0" y="309.84" font-size="17" fill="#089981" textLength="77.0" lengthAdjust="spacingAndGlyphs">2,764.42</text>
<circle cx="25.1" cy="19" r="13.1" fill="#4b59a6"/>
<polygon points="25.1,10.0 19.1,19.8 25.1,23.3" fill="#e6e9fc"/>
<polygon points="25.1,10.0 31.1,19.8 25.1,23.3" fill="#cbd1f3"/>
<polygon points="19.1,19.8 25.1,16.8 25.1,23.3" fill="#b9c1ea"/>
<polygon points="31.1,19.8 25.1,16.8 25.1,23.3" fill="#a5aee0"/>
<polygon points="19.1,21.2 25.1,24.7 25.1,28.2" fill="#e6e9fc"/>
<polygon points="31.1,21.2 25.1,24.7 25.1,28.2" fill="#cbd1f3"/>
<text x="44.4" y="28.64" font-size="22" fill="#131722" textLength="405.6" lengthAdjust="spacingAndGlyphs">Ethereum / U.S. Dollar · 1D · VANTAGE</text>
<circle cx="485.3" cy="18.8" r="12.9" fill="#e4f3ef"/>
<circle cx="485.3" cy="18.8" r="5.9" fill="#089981"/>
<text x="10.6" y="57.04" font-size="19.5" fill="#131722" textLength="14.6" lengthAdjust="spacingAndGlyphs">O</text>
<text x="27.4" y="57.04" font-size="19.5" fill="#1f9a7b" textLength="82.0" lengthAdjust="spacingAndGlyphs">3,419.06</text>
<text x="118.2" y="57.04" font-size="19.5" fill="#131722" textLength="14.6" lengthAdjust="spacingAndGlyphs">H</text>
<text x="135.0" y="57.04" font-size="19.5" fill="#1f9a7b" textLength="81.0" lengthAdjust="spacingAndGlyphs">3,672.60</text>
<text x="226.8" y="57.04" font-size="19.5" fill="#131722" textLength="11.2" lengthAdjust="spacingAndGlyphs">L</text>
<text x="238.4" y="57.04" font-size="19.5" fill="#1f9a7b" textLength="81.6" lengthAdjust="spacingAndGlyphs">3,415.98</text>
<text x="330.4" y="57.04" font-size="19.5" fill="#131722" textLength="13.2" lengthAdjust="spacingAndGlyphs">C</text>
<text x="345.6" y="57.04" font-size="19.5" fill="#1f9a7b" textLength="82.0" lengthAdjust="spacingAndGlyphs">3,610.62</text>
<text x="437.2" y="57.04" font-size="19.5" fill="#1f9a7b" textLength="77.2" lengthAdjust="spacingAndGlyphs">+191.52</text>
<text x="521.8" y="57.04" font-size="19.5" fill="#1f9a7b" textLength="82.4" lengthAdjust="spacingAndGlyphs">(+5.60%)</text>
<rect x="11.2" y="69.1" width="112.9" height="47.8" rx="7" fill="#fff" stroke="#e0606d" stroke-width="1.3"/>
<text x="27.6" y="90.64" font-size="17" stroke="#d9414f" stroke-width="0.55" fill="#d9414f" textLength="79.4" lengthAdjust="spacingAndGlyphs">3,610.72</text>
<text x="46.2" y="108.96" font-size="15.5" fill="#dc5865" textLength="40.0" lengthAdjust="spacingAndGlyphs">SELL</text>
<text x="136" y="97.42" font-size="15.3" fill="#131722" textLength="33.0" lengthAdjust="spacingAndGlyphs">2.96</text>
<rect x="181.7" y="69.1" width="113" height="47.8" rx="7" fill="#fff" stroke="#3f70de" stroke-width="1.3"/>
<text x="198.6" y="90.84" font-size="17" stroke="#3468d6" stroke-width="0.55" fill="#3468d6" textLength="79.2" lengthAdjust="spacingAndGlyphs">3,613.68</text>
<text x="220.2" y="109.96" font-size="15.5" fill="#4a76d8" textLength="34.6" lengthAdjust="spacingAndGlyphs">BUY</text>
<text x="10.8" y="648.56" font-size="18" fill="#131722" textLength="111.4" lengthAdjust="spacingAndGlyphs">RSI 14 close</text>
<text x="135.2" y="648.56" font-size="18" fill="#7b6ec6" textLength="54.0" lengthAdjust="spacingAndGlyphs">82.89</text>
<text x="197" y="648.56" font-size="18" fill="#f2d158" textLength="53" lengthAdjust="spacingAndGlyphs">66.54</text>
<polygon points="16.4,850 34,850 34,871.7 25,871.7 25,858.2 16.4,858.2" fill="#131722"/>
<circle cx="41.1" cy="854.1" r="4.1" fill="#131722"/>
<polygon points="48.7,850 60.4,850 51.6,871.7 41.6,871.7" fill="#131722"/>
<text x="70.6" y="871.6" font-size="30" font-weight="bold" fill="#131722" textLength="178.6" lengthAdjust="spacingAndGlyphs">TradingView</text>
<text x="11.6" y="921.16" font-size="18" fill="#131722" textLength="31.8" lengthAdjust="spacingAndGlyphs">Sep</text>
<text x="165.8" y="921.16" font-size="18" fill="#131722" textLength="28.4" lengthAdjust="spacingAndGlyphs">Oct</text>
<text x="322.2" y="921.16" font-size="18" fill="#131722" textLength="32.2" lengthAdjust="spacingAndGlyphs">Nov</text>
<text x="474.4" y="921.16" font-size="18" fill="#131722" textLength="33.2" lengthAdjust="spacingAndGlyphs">Dec</text>
<text x="626.2" y="921.16" font-size="18" font-weight="bold" fill="#131722" textLength="47.2" lengthAdjust="spacingAndGlyphs">2025</text>
<text x="790.8" y="921.16" font-size="18" fill="#131722" textLength="31.0" lengthAdjust="spacingAndGlyphs">Feb</text>
<polygon points="961.2,914 966.3,905.2 976.7,905.2 981.8,914 976.7,922.8 966.3,922.8" fill="none" stroke="#131722" stroke-width="1.6" stroke-linejoin="round"/>
<circle cx="971.5" cy="914" r="2.8" fill="none" stroke="#131722" stroke-width="1.5"/>
</svg>
</body></html>
